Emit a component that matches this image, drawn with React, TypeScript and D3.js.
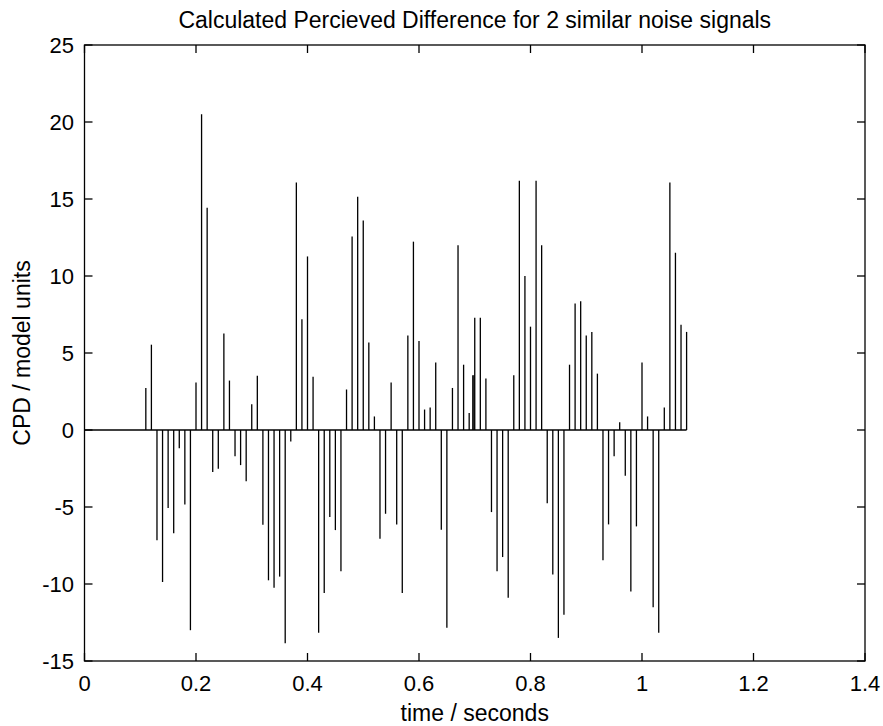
import React from "react";
import * as d3 from "d3";

// ---- data ----
const startTime = 0.11;
const timeStep = 0.01;
const cpdValues = [
  2.73, 5.54, -7.16, -9.87, -5.07, -6.71, -1.19, -4.83, -13.0, 3.08,
  20.5, 14.43, -2.73, -2.52, 6.26, 3.21, -1.7, -2.28, -3.32, 1.67,
  3.53, -6.15, -9.76, -10.24, -9.52, -13.85, -0.74, 16.07, 7.19, 11.27,
  3.45, -13.16, -10.58, -5.65, -6.5, -9.18, 2.63, 12.57, 15.15, 13.6,
  5.68, 0.88, -7.06, -5.44, 3.08, -6.13, -10.58, 6.13, 12.23, 5.78,
  1.33, 1.46, 4.38, -6.47, -12.84, 2.73, 11.99, 4.24, 1.11, 7.29,
  7.29, 3.34, -5.33, -9.18, -8.25, -10.9, 3.55, 16.18, 10.0, 6.71,
  16.18, 11.99, -4.75, -9.39, -13.5, -11.99, 4.24, 8.22, 8.36, 6.13,
  6.37, 3.66, -8.46, -6.13, -1.7, 0.5, -2.97, -10.48, -6.26, 4.38,
  0.88, -11.51, -13.16, 1.46, 16.07, 11.51, 6.84, 6.37,
];
const extraTimes = [0.6965, 0.6985];
const extraValues = [3.55, 3.55];

const xTicks = [0, 0.2, 0.4, 0.6, 0.8, 1, 1.2, 1.4];
const yTicks = [-15, -10, -5, 0, 5, 10, 15, 20, 25];
const title = "Calculated Percieved Difference for 2 similar noise signals";
const xLabel = "time / seconds";
const yLabel = "CPD / model units";

const W = 883;
const H = 726;
const FONT = "'Liberation Sans', Arial, Helvetica, sans-serif";

export default function App() {
  const x = d3.scaleLinear().domain([0, 1.4]).range([84.5, 865]);
  const y = d3.scaleLinear().domain([-15, 25]).range([661, 45]);
  const times = d3.range(cpdValues.length).map((i) => startTime + i * timeStep);
  const stems = times.map((t, i) => ({ t, v: cpdValues[i] }));
  extraTimes.forEach((t, i) => stems.push({ t, v: extraValues[i] }));
  const [x0, x1] = x.range();
  const [yb, yt] = y.range();
  const tickLen = 8;
  const lastT = d3.max(times) as number;
  const sw = 1.3;

  return (
    <svg
      width={W}
      height={H}
      style={{ position: "absolute", left: 0, top: 0, background: "#fff" }}
      fontFamily={FONT}
    >
      <rect x={0} y={0} width={W} height={H} fill="#fff" />
      {/* stems */}
      <g stroke="#000" strokeWidth={sw}>
        {stems.map((s, i) => (
          <line key={i} x1={x(s.t)} x2={x(s.t)} y1={y(0)} y2={y(s.v)} />
        ))}
      </g>
      {/* baseline */}
      <line x1={x0} x2={x(lastT)} y1={y(0)} y2={y(0)} stroke="#000" strokeWidth={sw} />
      {/* box */}
      <rect x={x0} y={yt} width={x1 - x0} height={yb - yt} fill="none" stroke="#000" strokeWidth={sw} />
      {/* x ticks */}
      {xTicks.map((t) => (
        <g key={"x" + t}>
          <line x1={x(t)} x2={x(t)} y1={yb} y2={yb - tickLen} stroke="#000" strokeWidth={sw} />
          <line x1={x(t)} x2={x(t)} y1={yt} y2={yt + tickLen} stroke="#000" strokeWidth={sw} />
          <text x={x(t)} y={691} textAnchor="middle" fontSize={22} fill="#000">
            {String(t)}
          </text>
        </g>
      ))}
      {/* y ticks */}
      {yTicks.map((t) => (
        <g key={"y" + t}>
          <line x1={x0} x2={x0 + tickLen} y1={y(t)} y2={y(t)} stroke="#000" strokeWidth={sw} />
          <line x1={x1} x2={x1 - tickLen} y1={y(t)} y2={y(t)} stroke="#000" strokeWidth={sw} />
          <text x={74} y={y(t)} dy="0.36em" textAnchor="end" fontSize={22} fill="#000">
            {String(t)}
          </text>
        </g>
      ))}
      <text x={(x0 + x1) / 2} y={28} textAnchor="middle" fontSize={23} fill="#000">
        {title}
      </text>
      <text x={(x0 + x1) / 2} y={721} textAnchor="middle" fontSize={23} fill="#000">
        {xLabel}
      </text>
      <text
        transform={`translate(30, ${(yt + yb) / 2}) rotate(-90)`}
        textAnchor="middle"
        fontSize={23}
        fill="#000"
      >
        {yLabel}
      </text>
    </svg>
  );
}
